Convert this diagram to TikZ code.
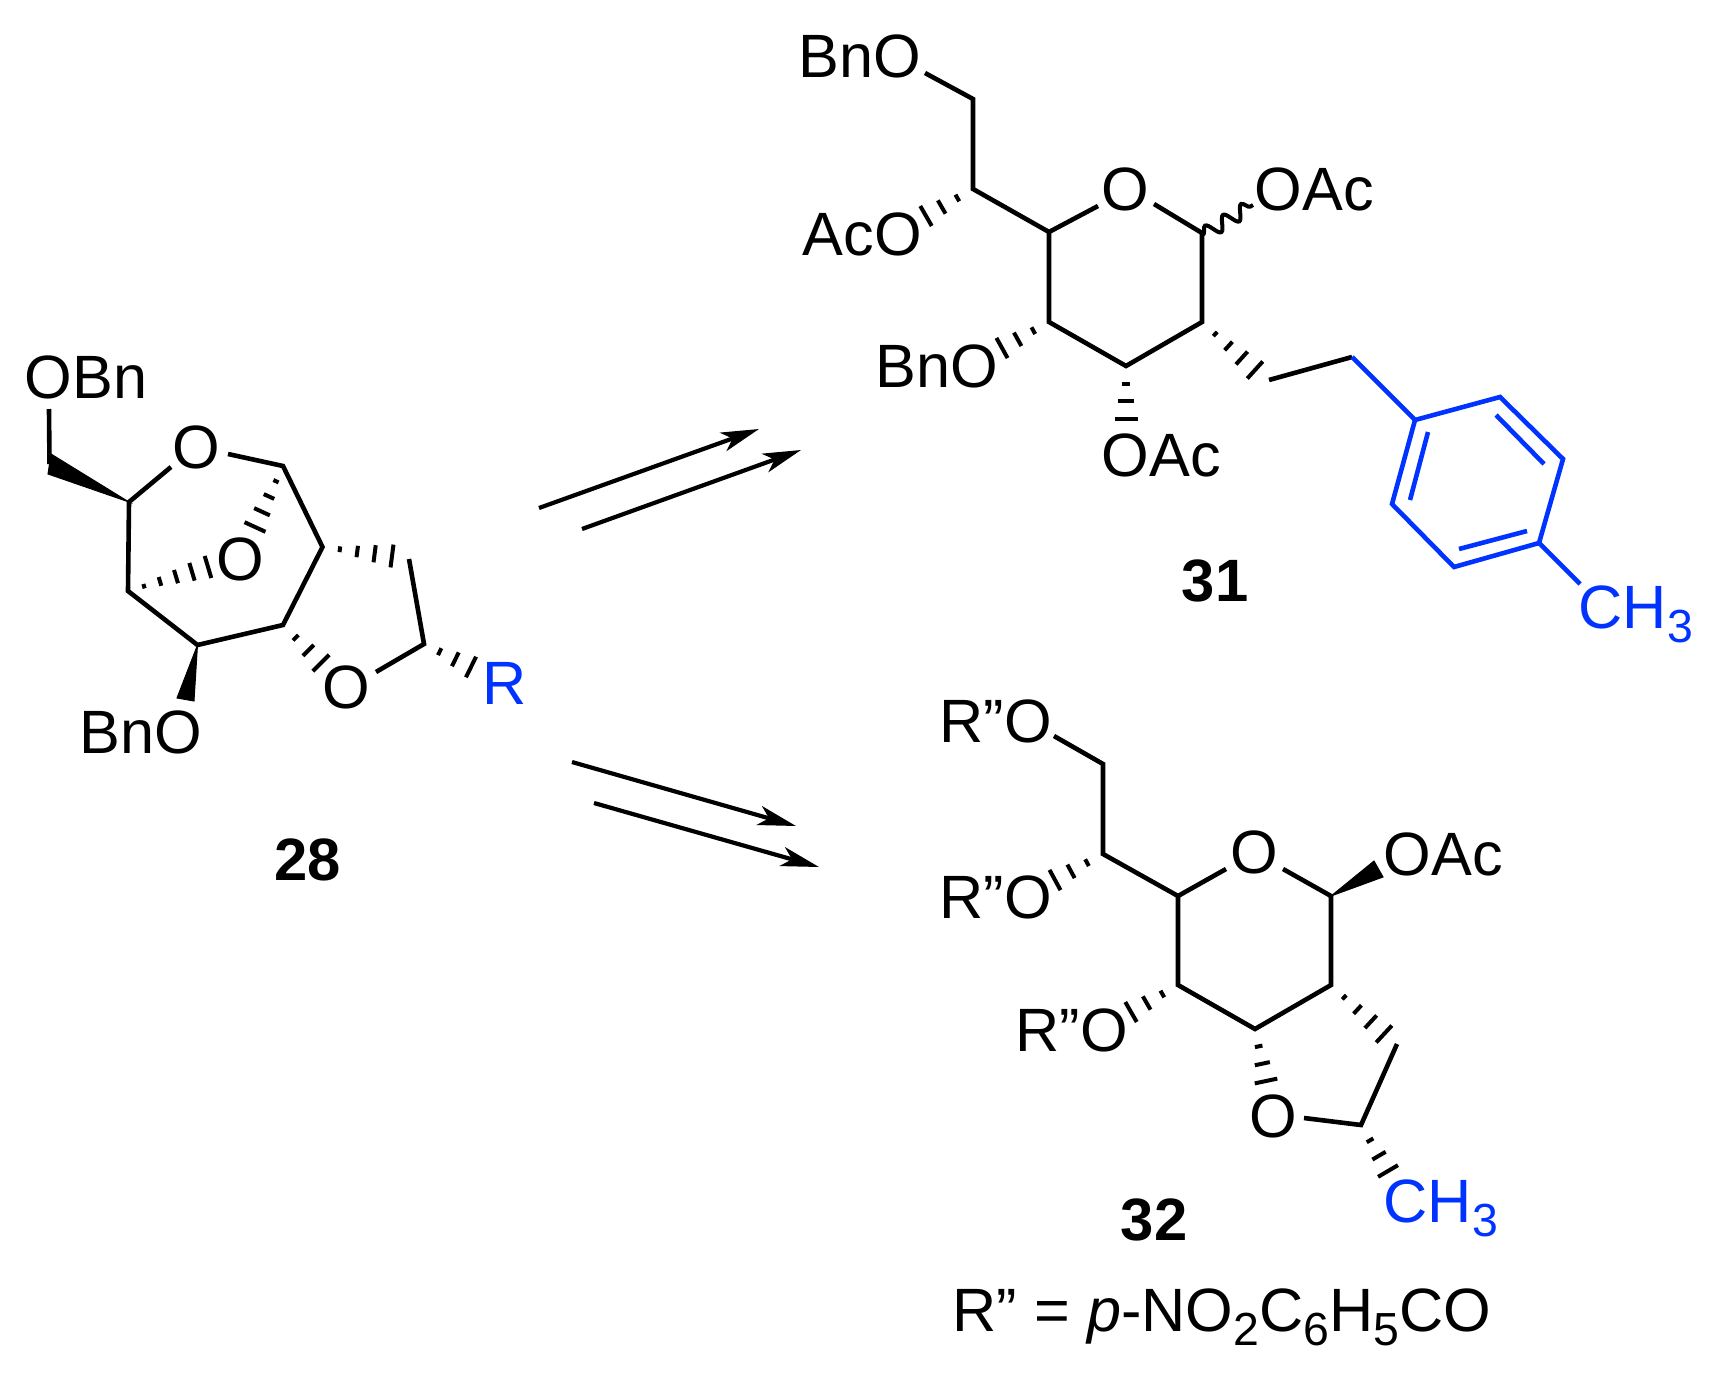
\documentclass[tikz,border=0pt]{standalone}
\usepackage{fontspec}
\setmainfont{Liberation Sans}
\usetikzlibrary{arrows.meta,calc,decorations.pathmorphing}
\definecolor{rblue}{RGB}{0,51,255}
\newcommand{\chemsub}[1]{\raisebox{-0.14cm}{\fontsize{13.2}{13.2}\selectfont #1}}
\newcommand{\hashbond}[3]{%
	\foreach \k in {1,...,#3}{
		\pgfmathsetmacro{\h}{0.115*\k/#3}
		\path ($(#1)!\k/#3!(#2)$) coordinate (hp);
		\draw [hash] ($(hp)!\h cm!90:(#1)$) -- ($(hp)!\h cm!-90:(#1)$);
	}}
\begin{document}
\begin{tikzpicture}[
	x=0.01cm,
	y=-0.01cm,
	atom/.style={
	  anchor=base west,
	  inner sep=0pt,
	  font=\fontsize{17.4}{20}\selectfont
	},
	blueatom/.style={
	  atom,
	  text=rblue
	},
	compound/.style={
	  anchor=base,
	  inner sep=0pt,
	  font=\fontsize{17}{20}\selectfont\bfseries
	},
	bond/.style={draw, line width=0.046cm, line join=miter},
	bluebond/.style={bond, draw=rblue},
	wedgebond/.style={fill=black, draw=black, line width=0.01cm},
	hash/.style={draw, line width=0.04cm},
	wavy/.style={draw, line width=0.04cm, decorate, decoration={snake, segment length=0.21cm, amplitude=0.07cm}},
	reaction/.style={draw, line width=0.042cm, -{Stealth[length=0.38cm,width=0.195cm,inset=0.10cm]}}
	]
	\useasboundingbox (0,0) rectangle (1713,1379);

	\node at (24,398) [atom] (ObnA) {OBn};
	\node at (196,447) [atom, anchor=center] (OringA) {O};
	\node at (240,559) [atom, anchor=center] (ObridgeA) {O};
	\node at (346,687) [atom, anchor=center] (OfiveA) {O};
	\node at (482,704) [blueatom] (RA) {R};
	\node at (79,753) [atom] (BnoA) {BnO};
	\node at (308,880) [compound] (labelA) {28};

	\coordinate (a1) at (49,409);
	\coordinate (a2) at (49.5,464);
	\coordinate (a2u) at (51,454);
	\coordinate (a2d) at (48,474);
	\coordinate (a3) at (129,502);
	\coordinate (a4) at (171,467);
	\coordinate (a5) at (228,454);
	\coordinate (a6) at (283,466);
	\coordinate (a7) at (322.5,547);
	\coordinate (a8) at (283,625);
	\coordinate (a9) at (197.5,645);
	\coordinate (a10) at (128,591);
	\coordinate (a11) at (255,527);
	\coordinate (a12) at (208,567);
	\coordinate (a13) at (392,556);
	\coordinate (a14) at (409,559);
	\coordinate (a15) at (424,644);
	\coordinate (a16) at (376,672);
	\coordinate (a17) at (321,663);
	\coordinate (a18) at (471,667);
	\coordinate (a19) at (177,698);
	\coordinate (a20) at (194,701);

	\path [bond] (a1) -- (a2);
	\path [wedgebond] (a2u) -- (a3) -- (a2d) -- cycle;
	\path [bond] (a4) -- (a3) -- (a10) -- (a9) -- (a8) -- (a7) -- (a6) -- (a5);
	\path [wedgebond] (a9) -- (a19) -- (a20) -- cycle;
	\path [bond] (a14) -- (a15) -- (a16);
	\hashbond{a6}{a11}{4}
	\hashbond{a10}{a12}{5}
	\hashbond{a7}{a13}{4}
	\hashbond{a8}{a17}{3}
	\hashbond{a15}{a18}{3}

	\node at (798,78) [atom] (BnoB) {BnO};
	\node at (802,255) [atom] (AcoB) {AcO};
	\node at (1125,189) [atom, anchor=center] (OringB) {O};
	\node at (1254,210) [atom] (OacB) {OAc};
	\node at (875,387) [atom] (BnolowB) {BnO};
	\node at (1101,476) [atom] (OaclowB) {OAc};
	\node at (1215,601) [compound] (labelB) {31};
	\node at (1578,628) [blueatom] (MeB) {CH\chemsub{3}};

	\coordinate (b1) at (925,73);
	\coordinate (b2) at (973,99);
	\coordinate (b3) at (973,189);
	\coordinate (b4) at (1049,232);
	\coordinate (b5) at (1098,206);
	\coordinate (b6) at (1154,204);
	\coordinate (b7) at (1202,233);
	\coordinate (b8) at (1202,322);
	\coordinate (b9) at (1126,366);
	\coordinate (b10) at (1049,322);
	\coordinate (b11) at (926,216);
	\coordinate (b12) at (1002,348);
	\coordinate (b13) at (1126,419);
	\coordinate (b14) at (1255,370);
	\coordinate (b15) at (1269,380);
	\coordinate (b16) at (1352,357);
	\coordinate (b17) at (1203,235);
	\coordinate (b18) at (1253,205);
	\coordinate (r1) at (1415,420);
	\coordinate (r2) at (1500,397);
	\coordinate (r3) at (1563,459);
	\coordinate (r4) at (1539,543);
	\coordinate (r5) at (1454,567);
	\coordinate (r6) at (1392,504);
	\coordinate (r1i) at (1428,432);
	\coordinate (r6i) at (1410,500);
	\coordinate (r2i) at (1496,415);
	\coordinate (r3i) at (1544,464);
	\coordinate (r4i) at (1527,531);
	\coordinate (r5i) at (1459,549);
	\coordinate (r7) at (1580,584);

	\path [bond] (b1) -- (b2) -- (b3) -- (b4) -- (b5);
	\path [bond] (b6) -- (b7) -- (b8) -- (b9) -- (b10) -- (b4);
	\path [bond] (b15) -- (b16);
	\path [wavy] (b17) -- (b18);
	\hashbond{b3}{b11}{3}
	\hashbond{b10}{b12}{3}
	\hashbond{b9}{b13}{3}
	\hashbond{b8}{b14}{4}
	\path [bluebond] (b16) -- (r1);
	\path [bluebond] (r1) -- (r2) -- (r3) -- (r4) -- (r5) -- (r6) -- cycle;
	\path [bluebond] (r1i) -- (r6i);
	\path [bluebond] (r2i) -- (r3i);
	\path [bluebond] (r4i) -- (r5i);
	\path [bluebond] (r4) -- (r7);

	\node at (939,742.5) [atom] (RoA) {R”O};
	\node at (939,918.5) [atom] (RoB) {R”O};
	\node at (1254,852.5) [atom, anchor=center] (OringC) {O};
	\node at (1383,875) [atom] (OacC) {OAc};
	\node at (1015,1051) [atom] (RoC) {R”O};
	\node at (1273,1116) [atom, anchor=center] (OfiveC) {O};
	\node at (1383,1222) [blueatom] (MeC) {CH\chemsub{3}};
	\node at (1154,1240) [compound] (labelC) {32};
	\node at (952,1331) [atom] (formula) {R” = \textit{p}-NO\chemsub{2}C\chemsub{6}H\chemsub{5}CO};

	\coordinate (c1) at (1054,736);
	\coordinate (c2) at (1103,764);
	\coordinate (c3) at (1103,854);
	\coordinate (c4) at (1178,896);
	\coordinate (c5) at (1226,869);
	\coordinate (c6) at (1283,869);
	\coordinate (c7) at (1331,896);
	\coordinate (c8) at (1331,985);
	\coordinate (c9) at (1255,1029);
	\coordinate (c10) at (1178,985);
	\coordinate (c11) at (1055,880);
	\coordinate (c12) at (1131,1012);
	\coordinate (c13) at (1266,1081);
	\coordinate (c14) at (1384,1034);
	\coordinate (c15) at (1397,1044);
	\coordinate (c16) at (1361,1125);
	\coordinate (c17) at (1304,1118);
	\coordinate (c18) at (1388,1171);
	\coordinate (c19) at (1374,861);
	\coordinate (c20) at (1383,877);

	\path [bond] (c1) -- (c2) -- (c3) -- (c4) -- (c5);
	\path [bond] (c6) -- (c7) -- (c8) -- (c9) -- (c10) -- (c4);
	\path [bond] (c15) -- (c16) -- (c17);
	\path [wedgebond] (c7) -- (c19) -- (c20) -- cycle;
	\hashbond{c3}{c11}{3}
	\hashbond{c10}{c12}{3}
	\hashbond{c9}{c13}{3}
	\hashbond{c8}{c14}{4}
	\hashbond{c16}{c18}{3}

	\coordinate (p1s) at (539,508);
	\coordinate (p1e) at (759,429);
	\coordinate (p2s) at (582,529);
	\coordinate (p2e) at (801,450);
	\coordinate (p3s) at (572,762);
	\coordinate (p3e) at (796,826);
	\coordinate (p4s) at (594,803);
	\coordinate (p4e) at (819,867);

	\path [reaction] (p1s) -- (p1e);
	\path [reaction] (p2s) -- (p2e);
	\path [reaction] (p3s) -- (p3e);
	\path [reaction] (p4s) -- (p4e);
\end{tikzpicture}
\end{document}
